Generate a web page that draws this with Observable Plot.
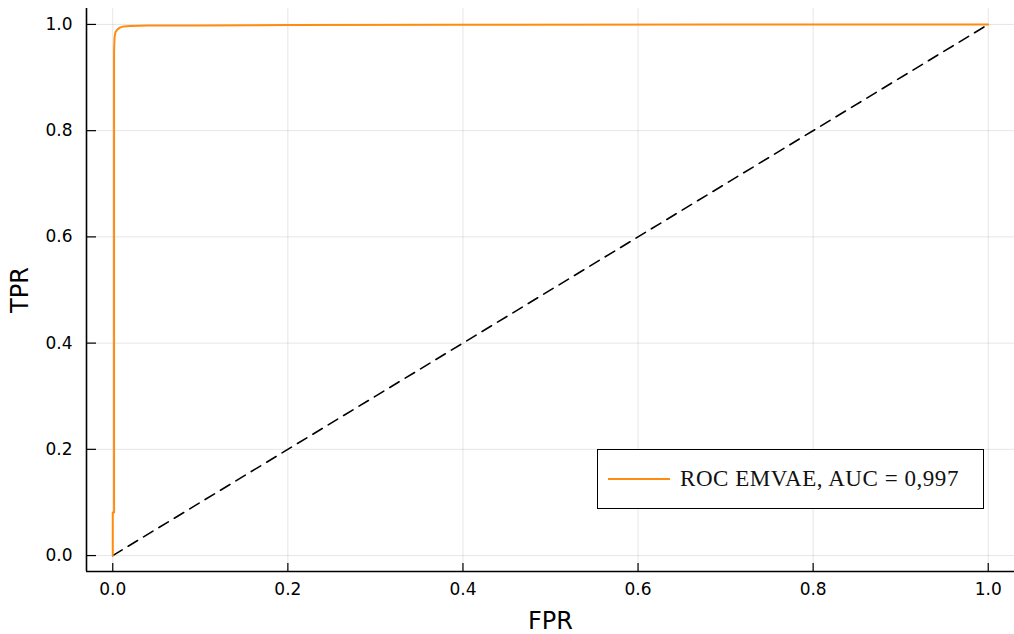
<!DOCTYPE html>
<html>
<head>
<meta charset="utf-8">
<script src="https://cdn.jsdelivr.net/npm/d3@7"></script>
<script src="https://cdn.jsdelivr.net/npm/@observablehq/plot@0.6"></script>
<style>
  body { margin: 0; background: #fff; }
  #wrap { position: relative; width: 1014px; height: 634px; }
  #legend { position: absolute; left: 597px; top: 449px; width: 387px; height: 60px;
    border: 1.4px solid #000; background: #fff; box-sizing: border-box;
    display: flex; align-items: center; font-family: "Liberation Serif", "DejaVu Serif", serif; font-size: 23px; letter-spacing: 0.55px; color: #111; }
  #legend .sw { width: 62px; height: 2px; background: #ff8c0f; margin-left: 10px; margin-right: 10px; }
</style>
</head>
<body>
<div id="wrap"></div>
<script>
// ROC curve points (FPR, TPR)
const fpr = [0, 0, 0.0015, 0.0015, 0.002, 0.003, 0.005, 0.008, 0.012, 0.02, 0.04, 0.1, 0.2, 0.4, 0.7, 1.0];
const tpr = [0, 0.081, 0.081, 0.95, 0.975, 0.985, 0.99, 0.994, 0.996, 0.997, 0.998, 0.998, 0.999, 0.9995, 1.0, 1.0];
// chance diagonal
const diagFpr = [0, 1];
const diagTpr = [0, 1];
const ticks = [0, 0.2, 0.4, 0.6, 0.8, 1.0];
const xDomain = [-0.03, 1.03];
const yDomain = [-0.03, 1.03];
const xLabel = "FPR";
const yLabel = "TPR";
const seriesName = "ROC EMVAE, AUC = 0,997";

const roc = fpr.map((f, i) => ({fpr: f, tpr: tpr[i]}));
const diag = diagFpr.map((f, i) => ({fpr: f, tpr: diagTpr[i]}));
const fmt = d3.format(".1f");

const W = 1014, H = 634, mL = 86, mR = 0, mT = 8, mB = 63;
const frameW = W - mL - mR, frameH = H - mT - mB;

const chart = Plot.plot({
  width: W,
  height: H,
  marginLeft: mL,
  marginRight: mR,
  marginTop: mT,
  marginBottom: mB,
  style: {fontFamily: "DejaVu Sans, sans-serif", fontSize: "17px", color: "#000", background: "#fff"},
  x: {domain: xDomain},
  y: {domain: yDomain},
  marks: [
    Plot.gridX(ticks, {stroke: "#000", strokeOpacity: 0.1, strokeWidth: 1}),
    Plot.gridY(ticks, {stroke: "#000", strokeOpacity: 0.1, strokeWidth: 1}),
    Plot.axisX(ticks, {tickSize: 0, tickPadding: 11, tickFormat: fmt, label: null, fontSize: 17, fill: "#000"}),
    Plot.axisY(ticks, {tickSize: 0, tickPadding: 14, tickFormat: fmt, label: null, fontSize: 17, fill: "#000"}),
    // inward tick marks
    Plot.tickX(ticks, {stroke: "#000", strokeWidth: 1.2, insetTop: frameH - 8}),
    Plot.tickY(ticks, {stroke: "#000", strokeWidth: 1.2, insetRight: frameW - 10}),
    // axis lines
    Plot.ruleX([xDomain[0]], {stroke: "#000", strokeWidth: 1.6}),
    Plot.ruleY([yDomain[0]], {stroke: "#000", strokeWidth: 1.6}),
    Plot.axisX([], {label: xLabel, labelAnchor: "center", labelOffset: 57, labelArrow: "none", fontSize: 24, tickSize: 0}),
    Plot.axisY([], {label: yLabel, labelAnchor: "center", labelOffset: 76, labelArrow: "none", fontSize: 24, tickSize: 0}),
    Plot.line(diag, {x: "fpr", y: "tpr", stroke: "#000", strokeWidth: 1.6, strokeDasharray: "11,7"}),
    Plot.line(roc, {x: "fpr", y: "tpr", stroke: "#ff8c0f", strokeWidth: 2})
  ]
});

const wrap = document.getElementById("wrap");
wrap.appendChild(chart);
const legend = document.createElement("div");
legend.id = "legend";
legend.innerHTML = `<span class="sw"></span><span></span>`;
legend.lastChild.textContent = seriesName;
wrap.appendChild(legend);
</script>
</body>
</html>
